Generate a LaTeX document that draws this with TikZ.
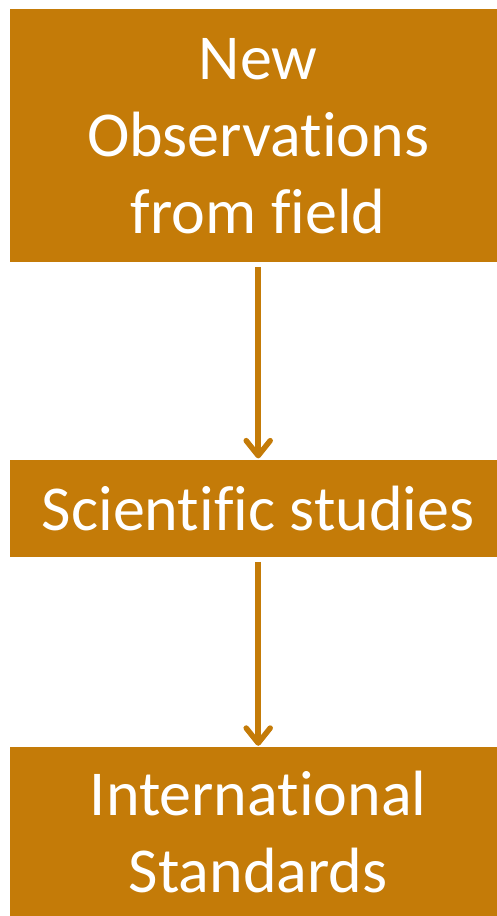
\documentclass[tikz,border=0pt]{standalone}
\usepackage{fontspec}
\setmainfont{Carlito}[Ligatures={NoCommon,NoRequired,NoContextual}]
\usetikzlibrary{arrows.meta,positioning}
\usepackage{xcolor}
\definecolor{FieldOchre}{RGB}{196,123,8}
\tikzset{
  stagebox/.style={draw=none,fill=FieldOchre,text=white,
    minimum width=496pt,align=center,inner sep=0pt,
    font=\fontsize{64}{77}\selectfont},
  stagearrow/.style={-{Straight Barb[length=15pt,width=24pt,line cap=round,line join=round]},
    line width=5.5pt,draw=FieldOchre,shorten <=5pt,shorten >=1pt},
}

\begin{document}
\begin{tikzpicture}[x=1pt,y=1pt]
  \useasboundingbox (0,0) rectangle (497,-916);
  \node[stagebox,minimum height=253pt,anchor=north west] (field) at (10,-9)
    {New\\Observations\\from field};
  \node[stagebox,minimum height=97pt,below=197pt of field] (studies)
    {Scientific studies};
  \node[stagebox,minimum height=170pt,below=190pt of studies] (standards)
    {International\\Standards};
  \draw[stagearrow] (field) -- (studies);
  \draw[stagearrow] (studies) -- (standards);
\end{tikzpicture}
\end{document}
